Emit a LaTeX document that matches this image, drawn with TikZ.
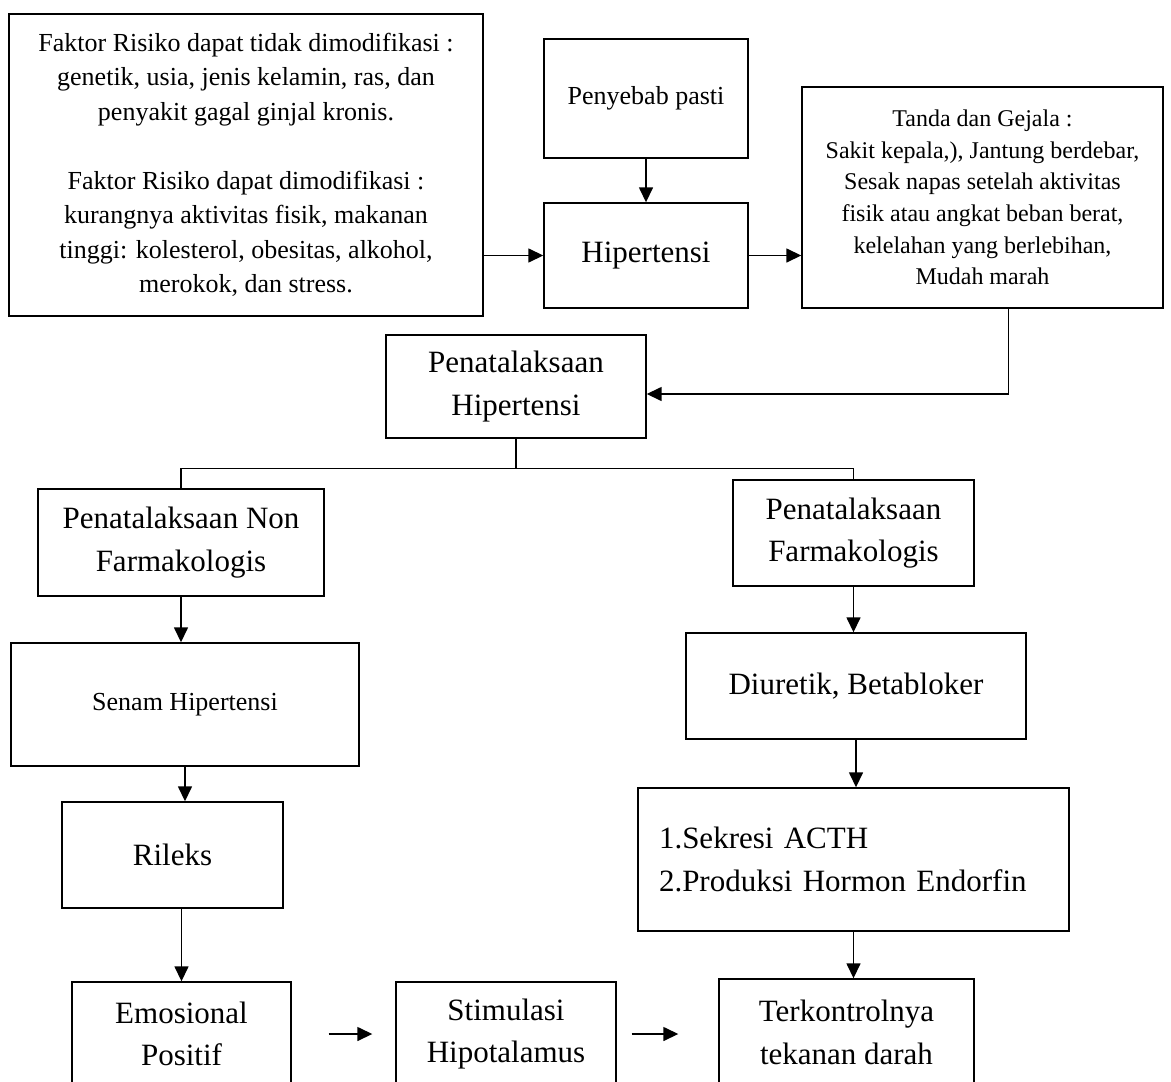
\documentclass[tikz,border=0pt]{standalone}
\usepackage{fontspec}
\setmainfont{Liberation Serif}
\usetikzlibrary{arrows.meta, positioning, calc}

\tikzset{
    box/.style={draw, line width=1.4pt, inner sep=0pt, align=center},
    arr/.style={-{Triangle[length=15pt, width=14pt]}, line width=1.5pt},
    link/.style={line width=1.4pt},
    smalltxt/.style={font=\fontsize{26}{34.5}\selectfont},
    midtxt/.style={font=\fontsize{24}{31.7}\selectfont},
    bigtxt/.style={font=\fontsize{31}{42.5}\selectfont}
}

\begin{document}
\begin{tikzpicture}[x=1pt, y=-1pt]
    % Page frame
    \useasboundingbox (0,0) rectangle (1171,1082);
    \clip (0,0) rectangle (1171,1082);

    % Top row
    \node[box, smalltxt, minimum width=474pt, minimum height=302pt] (faktor) at (246,165)
        {Faktor Risiko dapat tidak dimodifikasi :\\ genetik, usia, jenis kelamin, ras, dan\\ penyakit gagal ginjal kronis.\\ \strut\\
         Faktor Risiko dapat dimodifikasi :\\ kurangnya aktivitas fisik, makanan\\ tinggi: kolesterol, obesitas, alkohol,\\ merokok, dan stress.};
    \node[box, smalltxt, minimum width=204pt, minimum height=119pt] (penyebab) at (646,98.5) {Penyebab pasti};
    \node[box, bigtxt, minimum width=204pt, minimum height=105pt] (hip) at (646,255.5) {Hipertensi};
    \node[box, midtxt, minimum width=361pt, minimum height=221pt] (tanda) at (982.5,197.5)
        {Tanda dan Gejala :\\ Sakit kepala,), Jantung berdebar,\\ Sesak napas setelah aktivitas\\ fisik atau angkat beban berat,\\ kelelahan yang berlebihan,\\ Mudah marah};

    % Management
    \node[box, bigtxt, minimum width=260pt, minimum height=103pt] (ph) at (516,386.5) {Penatalaksaan\\ Hipertensi};
    \node[box, bigtxt, minimum width=286pt, minimum height=107pt] (non) at (181,542.5) {Penatalaksaan Non\\ Farmakologis};
    \node[box, bigtxt, minimum width=241pt, minimum height=106pt] (farm) at (853.5,533) {Penatalaksaan\\ Farmakologis};

    % Left branch
    \node[box, smalltxt, minimum width=348pt, minimum height=123pt] (senam) at (185,704.5) {Senam Hipertensi};
    \node[box, bigtxt, minimum width=221pt, minimum height=106pt] (rileks) at (172.5,855) {Rileks};

    % Right branch
    \node[box, bigtxt, minimum width=431pt, minimum height=143pt, text width=389pt, align=left] (sek) at (853.5,859.5)
        {1.Sekresi ACTH\\ 2.Produksi Hormon Endorfin};
    \node[box, bigtxt, minimum width=340pt, minimum height=106pt] (diur) at (856,686) {Diuretik, Betabloker};

    % Bottom row (cut by the page edge)
    \node[box, bigtxt, minimum width=219pt, minimum height=104pt] (emo) at (181.5,1034) {Emosional\\ Positif};
    \node[box, bigtxt, minimum width=220pt, minimum height=104pt] (stim) at (506,1034) {Stimulasi\\ Hipotalamus};
    \node[box, bigtxt, minimum width=255pt, minimum height=107pt] (terk) at (846.5,1032.5) {Terkontrolnya\\ tekanan darah};

    % Arrows
    \draw[arr] (faktor.east |- hip.west) -- (hip.west);
    \draw[arr] (penyebab.south) -- (hip.north);
    \draw[arr] (hip.east) -- (hip.east -| tanda.west);
    \draw[arr] ([xshift=26pt]tanda.south) |- ([yshift=-7.5pt]ph.east);

    % Split
    \draw[link] (ph.south) -- ++(0,30) coordinate (split) -| (non.north);
    \draw[link] (split) -| (farm.north);

    \draw[arr] (non.south) -- (non.south |- senam.north);
    \draw[arr] (senam.south) -- (senam.south |- rileks.north);
    \draw[arr] (emo.north |- rileks.south) -- (emo.north);
    \draw[arr] (farm.south) -- (farm.south |- diur.north);
    \draw[arr] (diur.south) -- (diur.south |- sek.north);
    \draw[arr] (sek.south) -- (sek.south |- terk.north);
    \draw[arr, shorten <=37pt, shorten >=23pt] (emo.east) -- (stim.west);
    \draw[arr, shorten <=15pt, shorten >=40pt] (stim.east) -- (terk.west |- stim.east);
\end{tikzpicture}
\end{document}
